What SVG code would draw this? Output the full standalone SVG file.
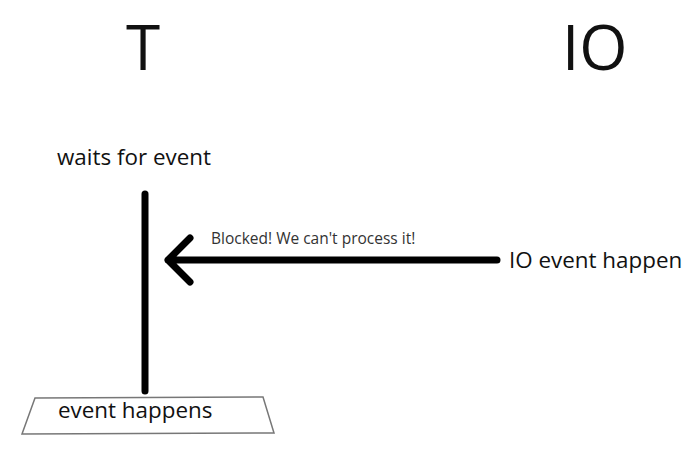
<svg xmlns="http://www.w3.org/2000/svg" width="700" height="458" viewBox="0 0 700 458">
<style>
text{font-family:"Open Sans","DejaVu Sans",sans-serif;fill:#111}
.big{font-size:62px}
.lbl{font-size:22.4px}
.sm{font-size:15.5px;fill:#333}
.line{stroke:#000;stroke-width:7;stroke-linecap:round;stroke-linejoin:round;fill:none}
</style>
<rect width="700" height="458" fill="#fff"/>
<g id="T"><text class="big" x="126" y="70">T</text></g>
<g id="IO"><text class="big" x="562" y="70">IO</text></g>
<g id="waits"><text class="lbl" x="57" y="165">waits for event</text></g>
<g id="io-event"><text class="lbl" x="509" y="268">IO event happen</text></g>
<g id="event-happens">
<polygon points="35,398 263,397 274,433 22,434" fill="#fff" stroke="#777" stroke-width="1.5"/>
<text class="lbl" x="58" y="418">event happens</text>
</g>
<g id="connectors">
<path class="line" d="M145,194 L145,391"/>
<path class="line" d="M497,260 L168,260 M190,238 L168,260 L190,282"/>
<text class="sm" x="211" y="244">Blocked! We can't process it!</text>
</g>
</svg>
